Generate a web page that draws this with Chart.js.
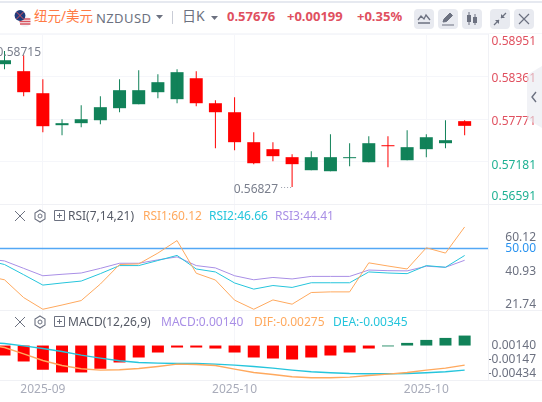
<!DOCTYPE html>
<html lang="zh-CN"><head><meta charset="utf-8">
<script src="https://cdn.jsdelivr.net/npm/chart.js@4"></script>
<style>
html,body{margin:0;padding:0;background:#fff;width:542px;height:402px;overflow:hidden}
body{position:relative;font-family:"Noto Sans","Noto Sans CJK SC",sans-serif}
canvas{position:absolute;left:0}
.t{position:absolute;white-space:nowrap;line-height:16px;height:16px}
.box{position:absolute;top:9px;width:20px;height:20px;border-radius:4px;background:#e8eaf0}
svg{position:absolute;overflow:visible}
.hl{position:absolute;height:1px;left:0;width:542px;background:#f0f1f5}
</style></head><body>
<div class="hl" style="top:1px;height:2px;background:#e6e9f0"></div>
<div class="hl" style="top:33px;background:#f6f7fa"></div>
<canvas id="main" width="542" height="172" style="top:33px"></canvas>
<canvas id="rsi" width="542" height="107" style="top:204px"></canvas>
<canvas id="macd" width="542" height="92" style="top:310px"></canvas>
<div class="hl" style="top:204px"></div>
<div class="hl" style="top:310px"></div>
<div class="hl" style="top:380px"></div>
<div class="hl" style="left:488px;top:34px;width:1px;height:346px"></div>

<svg style="left:14px;top:10px" width="17" height="17" viewBox="0 0 17 17">
<circle cx="11" cy="11.5" r="5.5" fill="#f3f3f6"/><path d="M6 9h10.4M5.5 11.5h11M6 14h10.4" stroke="#d9535f" stroke-width="1.4"/>
<circle cx="6" cy="5.5" r="5.4" fill="#1f3a7a"/><path d="M2.5 2l7 7M9.5 2l-7 7" stroke="#d9535f" stroke-width="1"/></svg>
<div class="t" style="left:34px;top:8px;font-size:13.5px;color:#ff7a45">纽元/美元</div>
<div class="t" style="left:96px;top:10px;font-size:13px;color:#6c7180;letter-spacing:.4px">NZDUSD</div>
<svg style="left:156px;top:15px" width="8" height="5"><path d="M0 0h7L3.500 4z" fill="#6c7180"/></svg>
<div class="hl" style="left:172px;top:11px;width:1px;height:13px;background:#c9ccd6"></div>
<div class="t" style="left:182px;top:8px;font-size:14px;color:#6c7180">日K</div>
<svg style="left:211px;top:16px" width="8" height="5"><path d="M0 0h7L3.500 4z" fill="#6c7180"/></svg>
<div class="t" style="left:227px;top:8px;font-size:13px;font-weight:700;color:#e0505f">0.57676</div>
<div class="t" style="left:287px;top:8px;font-size:13px;font-weight:700;color:#e0505f">+0.00199</div>
<div class="t" style="left:357px;top:8px;font-size:13px;font-weight:700;color:#e0505f">+0.35%</div>
<div class="box" style="left:414px"></div><div class="box" style="left:438px"></div><div class="box" style="left:462px"></div><div class="box" style="left:490px"></div><div class="box" style="left:514px"></div>
<svg style="left:414px;top:9px" width="20" height="20"><path d="M4 11l3-4 3 3 2-4 4 5" fill="none" stroke="#6c7180" stroke-width="1.3"/><path d="M4 14h12" stroke="#6c7180" stroke-width="1.5"/></svg>
<svg style="left:438px;top:9px" width="20" height="20"><path d="M5 13l1-3 6-6 2.500 2.500-6 6zM4 16h12" fill="#6c7180" stroke="#6c7180" stroke-width="1"/></svg>
<svg style="left:462px;top:9px" width="20" height="20"><path d="M7 3v13M13 5v11" stroke="#6c7180"/><rect x="5" y="6" width="4" height="7" fill="#6c7180"/><rect x="11" y="8" width="4" height="6" fill="#6c7180"/></svg>
<svg style="left:490px;top:9px" width="20" height="20"><path d="M16 4l-5 5M4 16l5-5" stroke="#6c7180" stroke-width="1.300"/><path d="M11 5v4h4M5 11h4v4" fill="#6c7180"/></svg>
<svg style="left:514px;top:9px" width="20" height="20"><path d="M5 5l10 10M15 5L5 15" stroke="#6c7180" stroke-width="1.200"/></svg>
<svg style="left:527px;top:66px" width="15" height="62"><path d="M15 0L0 9v44l15 9z" fill="rgba(232,234,240,.6)"/><path d="M9 26l-4 5 4 5" fill="none" stroke="#6c7180" stroke-width="1.400"/></svg>

<svg style="left:14px;top:210px" width="12" height="12"><path d="M1 1l10 10M11 1L1 11" stroke="#6c7180"/></svg>
<svg style="left:34px;top:209px" width="12" height="14"><path d="M6 1l5 3v6l-5 3-5-3V4z" fill="none" stroke="#6c7180" stroke-width="1.100"/><circle cx="6" cy="7" r="2" fill="none" stroke="#6c7180"/></svg>
<svg style="left:54px;top:210px" width="12" height="12"><path d="M.500.5h10v10H.500zM5.500 3v5M3 5.500h5" fill="none" stroke="#6c7180"/></svg>
<div class="t" style="left:68px;top:208px;font-size:12px;color:#555a66">RSI(7,14,21)</div>
<div class="t" style="left:143px;top:208px;font-size:12px;color:#ffa95e">RSI1:60.12</div>
<div class="t" style="left:209px;top:208px;font-size:12px;color:#25c5dc">RSI2:46.66</div>
<div class="t" style="left:275px;top:208px;font-size:12px;color:#a98fe6">RSI3:44.41</div>

<svg style="left:14px;top:316px" width="12" height="12"><path d="M1 1l10 10M11 1L1 11" stroke="#6c7180"/></svg>
<svg style="left:34px;top:315px" width="12" height="14"><path d="M6 1l5 3v6l-5 3-5-3V4z" fill="none" stroke="#6c7180" stroke-width="1.100"/><circle cx="6" cy="7" r="2" fill="none" stroke="#6c7180"/></svg>
<svg style="left:54px;top:316px" width="12" height="12"><path d="M.500.5h10v10H.500zM5.500 3v5M3 5.500h5" fill="none" stroke="#6c7180"/></svg>
<div class="t" style="left:68px;top:314px;font-size:12px;color:#555a66">MACD(12,26,9)</div>
<div class="t" style="left:161px;top:314px;font-size:12px;color:#a98fe6">MACD:0.00140</div>
<div class="t" style="left:254px;top:314px;font-size:12px;color:#ffa95e">DIF:-0.00275</div>
<div class="t" style="left:333px;top:314px;font-size:12px;color:#25c5dc">DEA:-0.00345</div>

<script>
// Candles, one per trading session
const candleOpen  = [0.58532,0.58435,0.58129,0.57685,0.57713,0.57754,0.57921,0.57976,0.58143,0.58046,0.58337,0.57990,0.57865,0.57449,0.57352,0.57241,0.57060,0.57046,0.57227,0.57171,0.57407,0.57199,0.57352,0.57435,0.57741];
const candleClose = [0.58587,0.58143,0.57671,0.57713,0.57768,0.57935,0.58171,0.58171,0.58282,0.58421,0.57990,0.57865,0.57449,0.57157,0.57255,0.57144,0.57241,0.57241,0.57241,0.57435,0.57393,0.57380,0.57518,0.57477,0.57676];
const candleHigh  = [0.58715,0.58657,0.58324,0.57768,0.57963,0.58088,0.58324,0.58448,0.58393,0.58462,0.58435,0.58032,0.58074,0.57588,0.57449,0.57283,0.57324,0.57560,0.57435,0.57532,0.57532,0.57616,0.57560,0.57754,0.57754];
const candleLow   = [0.58462,0.58088,0.57588,0.57546,0.57657,0.57699,0.57865,0.57976,0.58060,0.57990,0.57949,0.57366,0.57338,0.57144,0.57185,0.56827,0.57060,0.57046,0.57116,0.57171,0.57102,0.57199,0.57241,0.57366,0.57546];
// Indicator lines: first value belongs to the session before the first candle
const rsi1 = [37.1,35.2,26.8,21.3,23.3,25.4,33.2,42.4,42.7,47.8,53.7,38.3,35.1,25.6,21.3,25.7,23.7,29.2,29.5,29.5,43.2,41.7,40.3,50.3,47.8,60.12];
const rsi2 = [44.6,42.4,37.6,32.7,33.7,34.6,38.1,41.9,41.9,44.3,46.7,40.3,38.9,33.7,30.8,32.5,31.6,33.8,33.8,33.8,38.9,38.4,38.1,41.9,41.1,46.66];
const rsi3 = [45.1,44.1,40.6,37.1,37.8,38.4,40.6,43.0,43.0,44.6,46.0,41.9,40.8,37.1,35.2,36.3,35.6,36.8,36.8,36.8,39.8,39.5,39.4,41.6,41.1,44.41];
const rsiReference = 50;
const macdHist = [-0.0014,-0.00224,-0.0034,-0.00378,-0.00378,-0.00326,-0.00238,-0.00168,-0.00098,-0.00028,-0.00028,-0.00042,-0.00098,-0.00168,-0.00182,-0.00196,-0.00168,-0.0014,-0.00098,-0.00042,-0.00012,0.00037,0.00079,0.00107,0.0014];
const dif = [0.00023,-0.00028,-0.00117,-0.0021,-0.0028,-0.00326,-0.00345,-0.0034,-0.00322,-0.00294,-0.00261,-0.00266,-0.0028,-0.00331,-0.00378,-0.00406,-0.00438,-0.00452,-0.00452,-0.00443,-0.0042,-0.00401,-0.00378,-0.00345,-0.00317,-0.00275];
const dea = [0.00047,0.00028,-0.00005,-0.00042,-0.00084,-0.00135,-0.00177,-0.00214,-0.00238,-0.00247,-0.00252,-0.00252,-0.00261,-0.00275,-0.00294,-0.00317,-0.00345,-0.00368,-0.00382,-0.00392,-0.00396,-0.00396,-0.00392,-0.00382,-0.00368,-0.00345];
// Axis ticks
const xTickIndex = [2,12,22];
const xTickLabels = ["2025-09","2025-10","2025-10"];
const priceTicks = [0.58951,0.58361,0.57771,0.57181,0.56591];
const rsiTicks = [60.12,50,40.93,21.74];
const macdTicks = [0.0014,-0.00147,-0.00434];
const highLabel = {index:0, value:0.58715};
const lowLabel = {index:15, value:0.56827};

const RED='#ff0000', GREEN='#118259', GRID='#f5f6fa';
const FONT='"Noto Sans","Noto Sans CJK SC",sans-serif';
const xMin=-0.235, xMax=25.27;
const isUp=candleClose.map((c,i)=>c>=candleOpen[i]);
const colours=isUp.map(u=>u?GREEN:RED);

function xScale(showLabels){
  return {type:'linear',min:xMin,max:xMax,display:true,offset:false,
    afterBuildTicks:s=>{s.ticks=xTickIndex.map(v=>({value:v}))},
    afterFit:s=>{s.height=showLabels?22:0},
    grid:{color:GRID,drawTicks:false,offset:false},border:{display:false},
    ticks:{display:showLabels,autoSkip:false,maxRotation:0,padding:2,color:'#a9acba',
      font:{family:FONT,size:12},
      callback:v=>xTickLabels[xTickIndex.indexOf(v)]}};
}
function yScale(min,max,gridTicks){
  return {type:'linear',min,max,position:'right',
    afterBuildTicks:s=>{s.ticks=gridTicks.map(v=>({value:v}))},
    afterFit:s=>{s.width=0},
    grid:{display:gridTicks.length>0,color:GRID,drawTicks:false},border:{display:false},
    ticks:{display:false}};
}
function axisLabels(id,ticks,fmt,colourFn,offsets){
  return {id,afterDraw(c){
    const g=c.ctx;g.save();g.font='12px '+FONT;g.textAlign='right';g.textBaseline='middle';
    ticks.forEach((v,i)=>{g.fillStyle=colourFn(v);
      g.fillText(fmt(v),536,c.scales.y.getPixelForValue(v)+offsets[i]);});
    g.restore();}};
}
const extremes={id:'extremes',afterDatasetsDraw(c){
  const g=c.ctx,x=c.scales.x,y=c.scales.y;g.save();g.font='12px '+FONT;g.fillStyle='#7a7f8d';g.textBaseline='middle';g.textAlign='right';
  const hy=y.getPixelForValue(highLabel.value);
  g.fillText(highLabel.value.toFixed(5),41,hy+2);
  const lx=x.getPixelForValue(lowLabel.index),ly=y.getPixelForValue(lowLabel.value);
  g.fillText(lowLabel.value.toFixed(5),lx-14,ly+3);
  g.strokeStyle='#9a9eab';g.setLineDash([1,2]);g.beginPath();g.moveTo(lx-11,ly+.5);g.lineTo(lx,ly+.5);g.stroke();
  g.restore();}};

const base={responsive:false,animation:false,events:[],plugins:{legend:{display:false},tooltip:{enabled:false}}};
const lineDs=(data,color,w)=>({type:'line',data:data.map((v,i)=>({x:i-1,y:v})),borderColor:color,borderWidth:w||1,pointRadius:0,tension:0,fill:false});
Chart.defaults.devicePixelRatio=1;

new Chart(document.getElementById('main'),{type:'bar',data:{datasets:[
  {data:candleHigh.map((h,i)=>({x:i,y:[candleLow[i],h]})),backgroundColor:colours,barThickness:1,grouped:false,inflateAmount:0},
  {data:candleOpen.map((o,i)=>({x:i,y:[o,candleClose[i]]})),backgroundColor:colours,barThickness:13,grouped:false,inflateAmount:0}
]},options:{...base,layout:{padding:{top:1,bottom:1,right:53,left:0}},
  scales:{x:xScale(false),y:yScale(priceTicks[4],priceTicks[0],priceTicks)}},
  plugins:[axisLabels('pl',priceTicks,v=>v.toFixed(5),v=>v>0.575?'#e0505f':'#1fb193',[8,2,3,4,-7]),extremes]});

new Chart(document.getElementById('rsi'),{type:'line',data:{datasets:[
  lineDs(rsi1,'#ffa95e'),lineDs(rsi2,'#25c5dc'),lineDs(rsi3,'#a98fe6'),
  {type:'line',data:[{x:xMin,y:rsiReference},{x:xMax,y:rsiReference}],borderColor:'#53a8f5',borderWidth:1.5,pointRadius:0}
]},options:{...base,layout:{padding:{top:1,bottom:0,right:53,left:0}},
  scales:{x:xScale(false),y:yScale(20.48,70.48,[])}},
  plugins:[axisLabels('rl',rsiTicks,v=>v.toFixed(2),v=>v===rsiReference?'#2a93f0':'#6c7180',[11,0,4,-4])]});

new Chart(document.getElementById('macd'),{type:'bar',data:{datasets:[
  lineDs(dif,'#ffa95e',1.4),lineDs(dea,'#25c5dc',1.4),
  {data:macdHist.map((v,i)=>({x:i,y:[0,v]})),backgroundColor:macdHist.map((v,i)=>i>=20?GREEN:RED),barThickness:12,grouped:false,inflateAmount:0}
]},options:{...base,layout:{padding:{top:1,bottom:0,right:53,left:0}},
  scales:{x:xScale(true),y:yScale(-0.00484,0.00485,[])}},
  plugins:[axisLabels('ml',macdTicks,v=>v.toFixed(5),()=>'#6c7180',[10,3.5,-2.5])]});
</script>
</body></html>
